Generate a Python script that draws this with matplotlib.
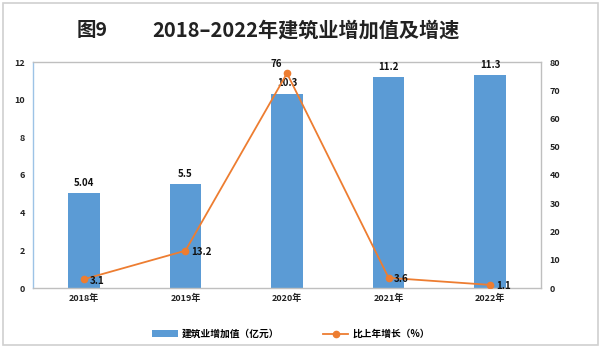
import matplotlib
matplotlib.use("Agg")
import matplotlib.pyplot as plt
from matplotlib.patches import Rectangle
from matplotlib.lines import Line2D
from matplotlib.patches import Patch

plt.rcParams['font.family'] = ['Noto Sans CJK SC', 'DejaVu Sans']

years = ["2018年", "2019年", "2020年", "2021年", "2022年"]
value_added = [5.04, 5.5, 10.3, 11.2, 11.3]
growth = [3.1, 13.2, 76, 3.6, 1.1]
bar_labels = ["5.04", "5.5", "10.3", "11.2", "11.3"]
growth_labels = ["3.1", "13.2", "76", "3.6", "1.1"]
left_ticks = [0, 2, 4, 6, 8, 10, 12]
right_ticks = [0, 10, 20, 30, 40, 50, 60, 70, 80]

bar_color = "#5B9BD5"
line_color = "#ED7D31"

fig = plt.figure(figsize=(6.03, 3.5), dpi=100)
fig.patches.append(Rectangle((3/603, 5/350), 595/603, 342/350, transform=fig.transFigure,
                             fill=False, edgecolor="#d0d0d0", linewidth=1.2))

ax = fig.add_axes([33/603, 1-288/350, 508/603, 226/350])
x = list(range(len(years)))
ax.bar(x, value_added, width=0.31, color=bar_color, zorder=2)
ax.set_ylim(0, 12)
ax.set_xlim(-0.5, 4.5)
ax.set_yticks(left_ticks)
ax.set_yticklabels([str(t) for t in left_ticks], fontsize=6.5, fontweight='bold', color="#222222")
ax.set_xticks(x)
ax.set_xticklabels(years, fontsize=6.5, fontweight='bold', color="#222222")
ax.tick_params(axis='y', length=0, pad=6)
ax.tick_params(axis='x', length=0, pad=4)
for s in ["top", "right", "bottom"]:
    ax.spines[s].set_color("#bfbfbf")
ax.spines["left"].set_color("#9DC3E6")
for s in ax.spines.values():
    s.set_linewidth(1.0)
for xi, v, lab in zip(x, value_added, bar_labels):
    ax.annotate(lab, (xi, v), xytext=(0, 4), textcoords="offset points",
                ha="center", va="bottom", fontsize=7, fontweight="bold", color="#111111")

ax2 = ax.twinx()
ax2.plot(x, growth, color=line_color, marker="o", markersize=4.5, linewidth=1.3, zorder=3)
ax2.set_ylim(0, 80)
ax2.set_yticks(right_ticks)
ax2.set_yticklabels([str(t) for t in right_ticks], fontsize=6.5, fontweight='bold', color="#222222")
ax2.tick_params(length=0, pad=6)
for s in ax2.spines.values():
    s.set_visible(False)
offsets = [(4, -1), (4, -1), (-8, 3), (4, -1), (4, -1)]
vas = ["center", "center", "bottom", "center", "center"]
for xi, v, lab, off, va in zip(x, growth, growth_labels, offsets, vas):
    ax2.annotate(lab, (xi, v), xytext=off, textcoords="offset points",
                 ha="left" if off[0] > 0 else "center", va=va,
                 fontsize=7, fontweight="bold", color="#111111")

fig.text(77/603, 1-30/350, "图9", ha="left", va="center",
         fontsize=14, fontweight="bold", color="#222222")
fig.text(152/603, 1-30/350, "2018–2022年建筑业增加值及增速", ha="left", va="center",
         fontsize=14.5, fontweight="bold", color="#222222")

handles = [Patch(facecolor=bar_color, edgecolor="none"),
           Line2D([0], [0], color=line_color, marker="o", markersize=4.5, linewidth=1.3)]
fig.legend(handles, ["建筑业增加值（亿元）", "比上年增长（%）"], loc="center",
           bbox_to_anchor=(291/603, 1-334/350), ncol=2, frameon=False,
           prop={'weight': 'bold', 'size': 7}, columnspacing=4.5, handlelength=2.6,
           handletextpad=0.4)

fig.savefig("out.png", dpi=100)
